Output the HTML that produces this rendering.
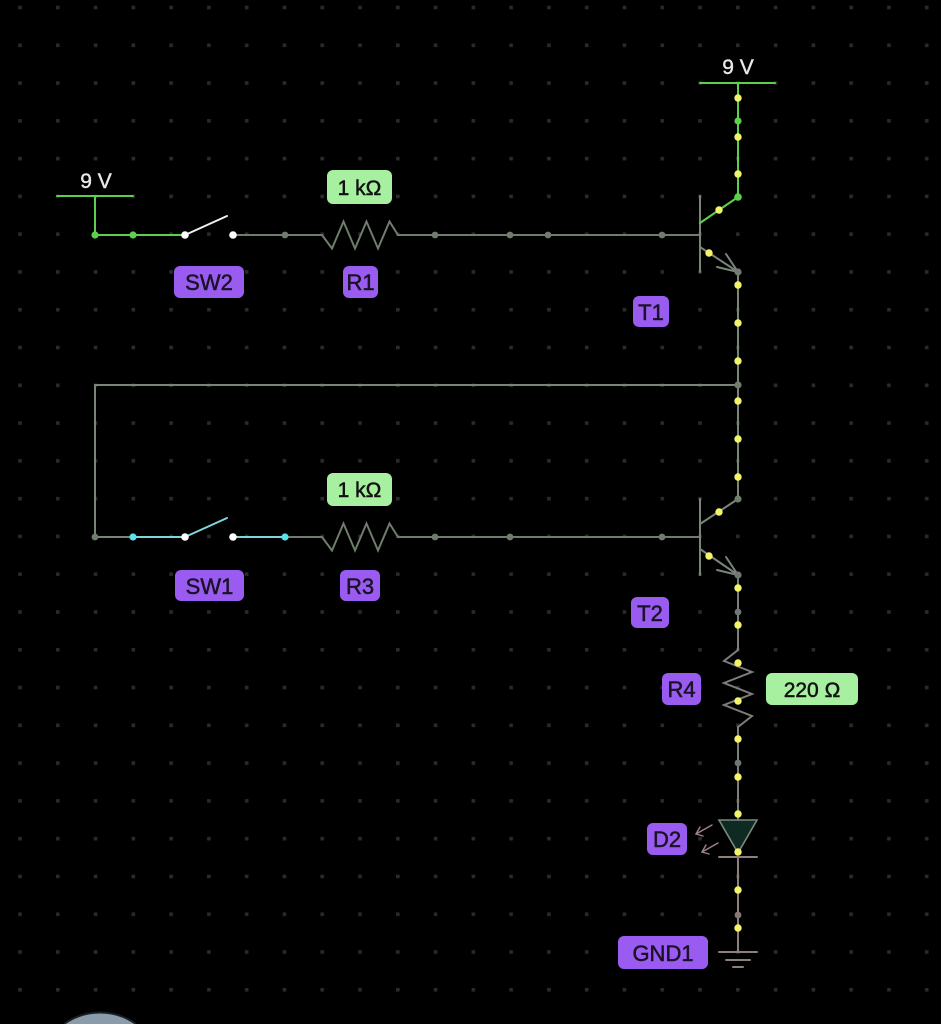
<!DOCTYPE html>
<html><head><meta charset="utf-8"><style>
html,body{margin:0;padding:0;background:#000;width:941px;height:1024px;overflow:hidden;}
svg{display:block;overflow:hidden;}
text{font-family:"Liberation Sans",sans-serif;}
</style></head><body>
<svg width="941" height="1024" viewBox="0 0 941 1024" xmlns="http://www.w3.org/2000/svg">
<defs>
<pattern id="grid" x="18.2" y="5.7" width="37.78" height="37.78" patternUnits="userSpaceOnUse">
<rect x="0" y="0" width="3.6" height="3.6" fill="#2a2a2a"/>
</pattern>
</defs>
<rect width="941" height="1024" fill="#000"/>
<rect width="941" height="1024" fill="url(#grid)"/>

<!-- bottom-left circle (visible segment only) -->
<path d="M65.1,1024 A61,61 0 0 1 134.9,1024 Z" fill="#8a9bab"/>
<path d="M64,1024 A62,62 0 0 1 136,1024" fill="none" stroke="#1a1f24" stroke-width="2"/>

<g fill="none" stroke-linecap="round" stroke-width="2">
<!-- Left 9V source -->
<line x1="57" y1="196" x2="133" y2="196" stroke="#5ccf4c"/>
<line x1="95" y1="196" x2="95" y2="235" stroke="#5ccf4c"/>
<line x1="95" y1="235" x2="185" y2="235" stroke="#5ccf4c"/>
<!-- SW2 -->
<line x1="185" y1="235" x2="227" y2="216" stroke="#f0f0f0"/>
<!-- wire SW2 to R1 -->
<line x1="233" y1="235" x2="322" y2="235" stroke="#6f7d6c"/>
<polyline points="322,235 332,248.5 343.5,221.5 355,248.5 366.5,221.5 378,248.5 389.5,221.5 398,235" stroke="#6f7d6c" stroke-linejoin="miter"/>
<line x1="398" y1="235" x2="700" y2="235" stroke="#6f7d6c"/>

<!-- T1 -->
<line x1="700" y1="196" x2="700" y2="272" stroke="#7a8479"/>
<line x1="700" y1="223" x2="738" y2="197" stroke="#5ccf4c"/>
<line x1="700" y1="247" x2="738" y2="272" stroke="#7a8479"/>
<line x1="738" y1="272" x2="726" y2="254" stroke="#7a8479"/>
<line x1="738" y1="272" x2="717" y2="267" stroke="#7a8479"/>
<!-- top 9V -->
<line x1="700" y1="83" x2="775" y2="83" stroke="#5ccf4c"/>
<line x1="738" y1="83" x2="738" y2="197" stroke="#5ccf4c"/>

<!-- vertical T1 emitter to T2 collector -->
<line x1="738" y1="272" x2="738" y2="499" stroke="#7a8479"/>
<!-- loop wire -->
<line x1="95" y1="385" x2="738" y2="385" stroke="#7a8479"/>
<line x1="95" y1="385" x2="95" y2="537" stroke="#7a8479"/>
<line x1="95" y1="537" x2="133" y2="537" stroke="#7a8479"/>
<!-- SW1 cyan segment -->
<line x1="133" y1="537" x2="185" y2="537" stroke="#7fd6de"/>
<line x1="185" y1="537" x2="227" y2="518" stroke="#7fd6de"/>
<line x1="233" y1="537" x2="285" y2="537" stroke="#7fd6de"/>
<line x1="285" y1="537" x2="322" y2="537" stroke="#6f7d6c"/>
<polyline points="322,537 332,550.5 343.5,523.5 355,550.5 366.5,523.5 378,550.5 389.5,523.5 398,537" stroke="#6f7d6c"/>
<line x1="398" y1="537" x2="700" y2="537" stroke="#6f7d6c"/>

<!-- T2 -->
<line x1="700" y1="499" x2="700" y2="575" stroke="#7a8479"/>
<line x1="700" y1="524" x2="738" y2="499" stroke="#7a8479"/>
<line x1="700" y1="549" x2="738" y2="575" stroke="#7a8479"/>
<line x1="738" y1="575" x2="726" y2="557" stroke="#7a8479"/>
<line x1="738" y1="575" x2="717" y2="570" stroke="#7a8479"/>

<!-- T2 emitter to R4 -->
<line x1="738" y1="575" x2="738" y2="650" stroke="#7d7d7a"/>
<polyline points="738,650 724,661 752,672 724,683 752,694 724,705 752,716 738,727" stroke="#7d7d7a"/>
<line x1="738" y1="727" x2="738" y2="820" stroke="#7d7d7a"/>

<!-- D2 -->
<polygon points="719,820 757,820 738,853" fill="#0f2a22" stroke="#7a8a7c" stroke-width="1.6"/>
<line x1="719" y1="857" x2="757" y2="857" stroke="#8c7f7c"/>
<line x1="738" y1="857" x2="738" y2="952" stroke="#8c7f7c"/>
<!-- emission arrows -->
<line x1="712" y1="825" x2="696" y2="834" stroke="#a08484" stroke-width="1.4"/>
<polyline points="700,827 696,834 703,836" stroke="#a08484" stroke-width="1.4"/>
<line x1="718" y1="843" x2="702" y2="852" stroke="#a08484" stroke-width="1.4"/>
<polyline points="706,845 702,852 709,854" stroke="#a08484" stroke-width="1.4"/>

<!-- GND -->
<line x1="719" y1="952" x2="757" y2="952" stroke="#8c7f7c"/>
<line x1="726" y1="960" x2="750" y2="960" stroke="#8c7f7c"/>
<line x1="733" y1="967" x2="743" y2="967" stroke="#8c7f7c"/>
</g>

<!-- nodes -->
<g>
<circle cx="95" cy="235" r="3.6" fill="#5ccf4c"/>
<circle cx="133" cy="235" r="3.6" fill="#5ccf4c"/>
<circle cx="185" cy="235" r="3.8" fill="#ffffff"/>
<circle cx="233" cy="235" r="3.8" fill="#ffffff"/>
<circle cx="285" cy="235" r="3.4" fill="#6f7d6c"/>
<circle cx="435" cy="235" r="3.4" fill="#6f7d6c"/>
<circle cx="510" cy="235" r="3.4" fill="#6f7d6c"/>
<circle cx="548" cy="235" r="3.4" fill="#6f7d6c"/>
<circle cx="662" cy="235" r="3.4" fill="#6f7d6c"/>

<circle cx="95" cy="537" r="3.4" fill="#6f7d6c"/>
<circle cx="133" cy="537" r="3.6" fill="#5ce0ea"/>
<circle cx="185" cy="537" r="3.8" fill="#ffffff"/>
<circle cx="233" cy="537" r="3.8" fill="#ffffff"/>
<circle cx="285" cy="537" r="3.6" fill="#5ce0ea"/>
<circle cx="435" cy="537" r="3.4" fill="#6f7d6c"/>
<circle cx="510" cy="537" r="3.4" fill="#6f7d6c"/>
<circle cx="662" cy="537" r="3.4" fill="#6f7d6c"/>

<circle cx="738" cy="121" r="3.6" fill="#5ccf4c"/>
<circle cx="738" cy="197" r="3.8" fill="#5ccf4c"/>
<circle cx="738" cy="272" r="3.6" fill="#6f7d6c"/>
<circle cx="738" cy="385" r="3.6" fill="#6f7d6c"/>
<circle cx="738" cy="499" r="3.6" fill="#6f7d6c"/>
<circle cx="738" cy="575" r="3.6" fill="#6f7775"/>
<circle cx="738" cy="612" r="3.4" fill="#6f7775"/>
<circle cx="738" cy="763" r="3.4" fill="#6f7775"/>
<circle cx="738" cy="915" r="3.4" fill="#857775"/>
</g>

<!-- yellow current dots -->
<g fill="#f4f46a">
<circle cx="738" cy="98" r="3.7"/>
<circle cx="738" cy="137" r="3.7"/>
<circle cx="738" cy="174" r="3.7"/>
<circle cx="719" cy="210" r="3.7"/>
<circle cx="709" cy="253" r="3.7"/>
<circle cx="738" cy="285" r="3.7"/>
<circle cx="738" cy="323" r="3.7"/>
<circle cx="738" cy="361" r="3.7"/>
<circle cx="738" cy="401" r="3.7"/>
<circle cx="738" cy="439" r="3.7"/>
<circle cx="738" cy="477" r="3.7"/>
<circle cx="719" cy="512" r="3.7"/>
<circle cx="709" cy="556" r="3.7"/>
<circle cx="738" cy="588" r="3.7"/>
<circle cx="738" cy="625" r="3.7"/>
<circle cx="738" cy="663" r="3.7"/>
<circle cx="738" cy="701" r="3.7"/>
<circle cx="738" cy="739" r="3.7"/>
<circle cx="738" cy="777" r="3.7"/>
<circle cx="738" cy="814" r="3.7"/>
<circle cx="738" cy="852" r="3.7"/>
<circle cx="738" cy="890" r="3.7"/>
<circle cx="738" cy="928" r="3.7"/>
</g>

<!-- voltage labels -->
<g fill="#e8e8e8" stroke="#e8e8e8" stroke-width="0.4" font-size="21" text-anchor="middle">
<text x="96" y="188">9 V</text>
<text x="738" y="74">9 V</text>
</g>

<!-- green value labels -->
<g>
<rect x="327" y="170" width="65" height="34" rx="6" fill="#a6f0a0"/>
<rect x="327" y="473" width="65" height="33" rx="6" fill="#a6f0a0"/>
<rect x="766" y="673" width="92" height="32" rx="6" fill="#a6f0a0"/>
</g>
<g fill="#111" stroke="#111" stroke-width="0.5" font-size="21" text-anchor="middle">
<text x="359.5" y="195">1 kΩ</text>
<text x="359.5" y="497">1 kΩ</text>
<text x="812" y="697">220 Ω</text>
</g>

<!-- purple name labels -->
<g fill="#9a5cf0">
<rect x="174" y="266" width="70" height="32" rx="6"/>
<rect x="343" y="266" width="35" height="32" rx="6"/>
<rect x="633" y="296" width="36" height="31" rx="6"/>
<rect x="175" y="570" width="69" height="31" rx="6"/>
<rect x="340" y="570" width="40" height="31" rx="6"/>
<rect x="631" y="597" width="38" height="31" rx="6"/>
<rect x="662" y="673" width="39" height="32" rx="6"/>
<rect x="647" y="823" width="40" height="32" rx="6"/>
<rect x="618" y="936" width="90" height="33" rx="6"/>
</g>
<g fill="#1a1226" stroke="#1a1226" stroke-width="0.5" font-size="22" text-anchor="middle">
<text x="209" y="290">SW2</text>
<text x="360.5" y="290">R1</text>
<text x="651" y="320">T1</text>
<text x="209.5" y="594">SW1</text>
<text x="360" y="594">R3</text>
<text x="650" y="621">T2</text>
<text x="681.5" y="697">R4</text>
<text x="667" y="847">D2</text>
<text x="663" y="961">GND1</text>
</g>
</svg>
</body></html>
